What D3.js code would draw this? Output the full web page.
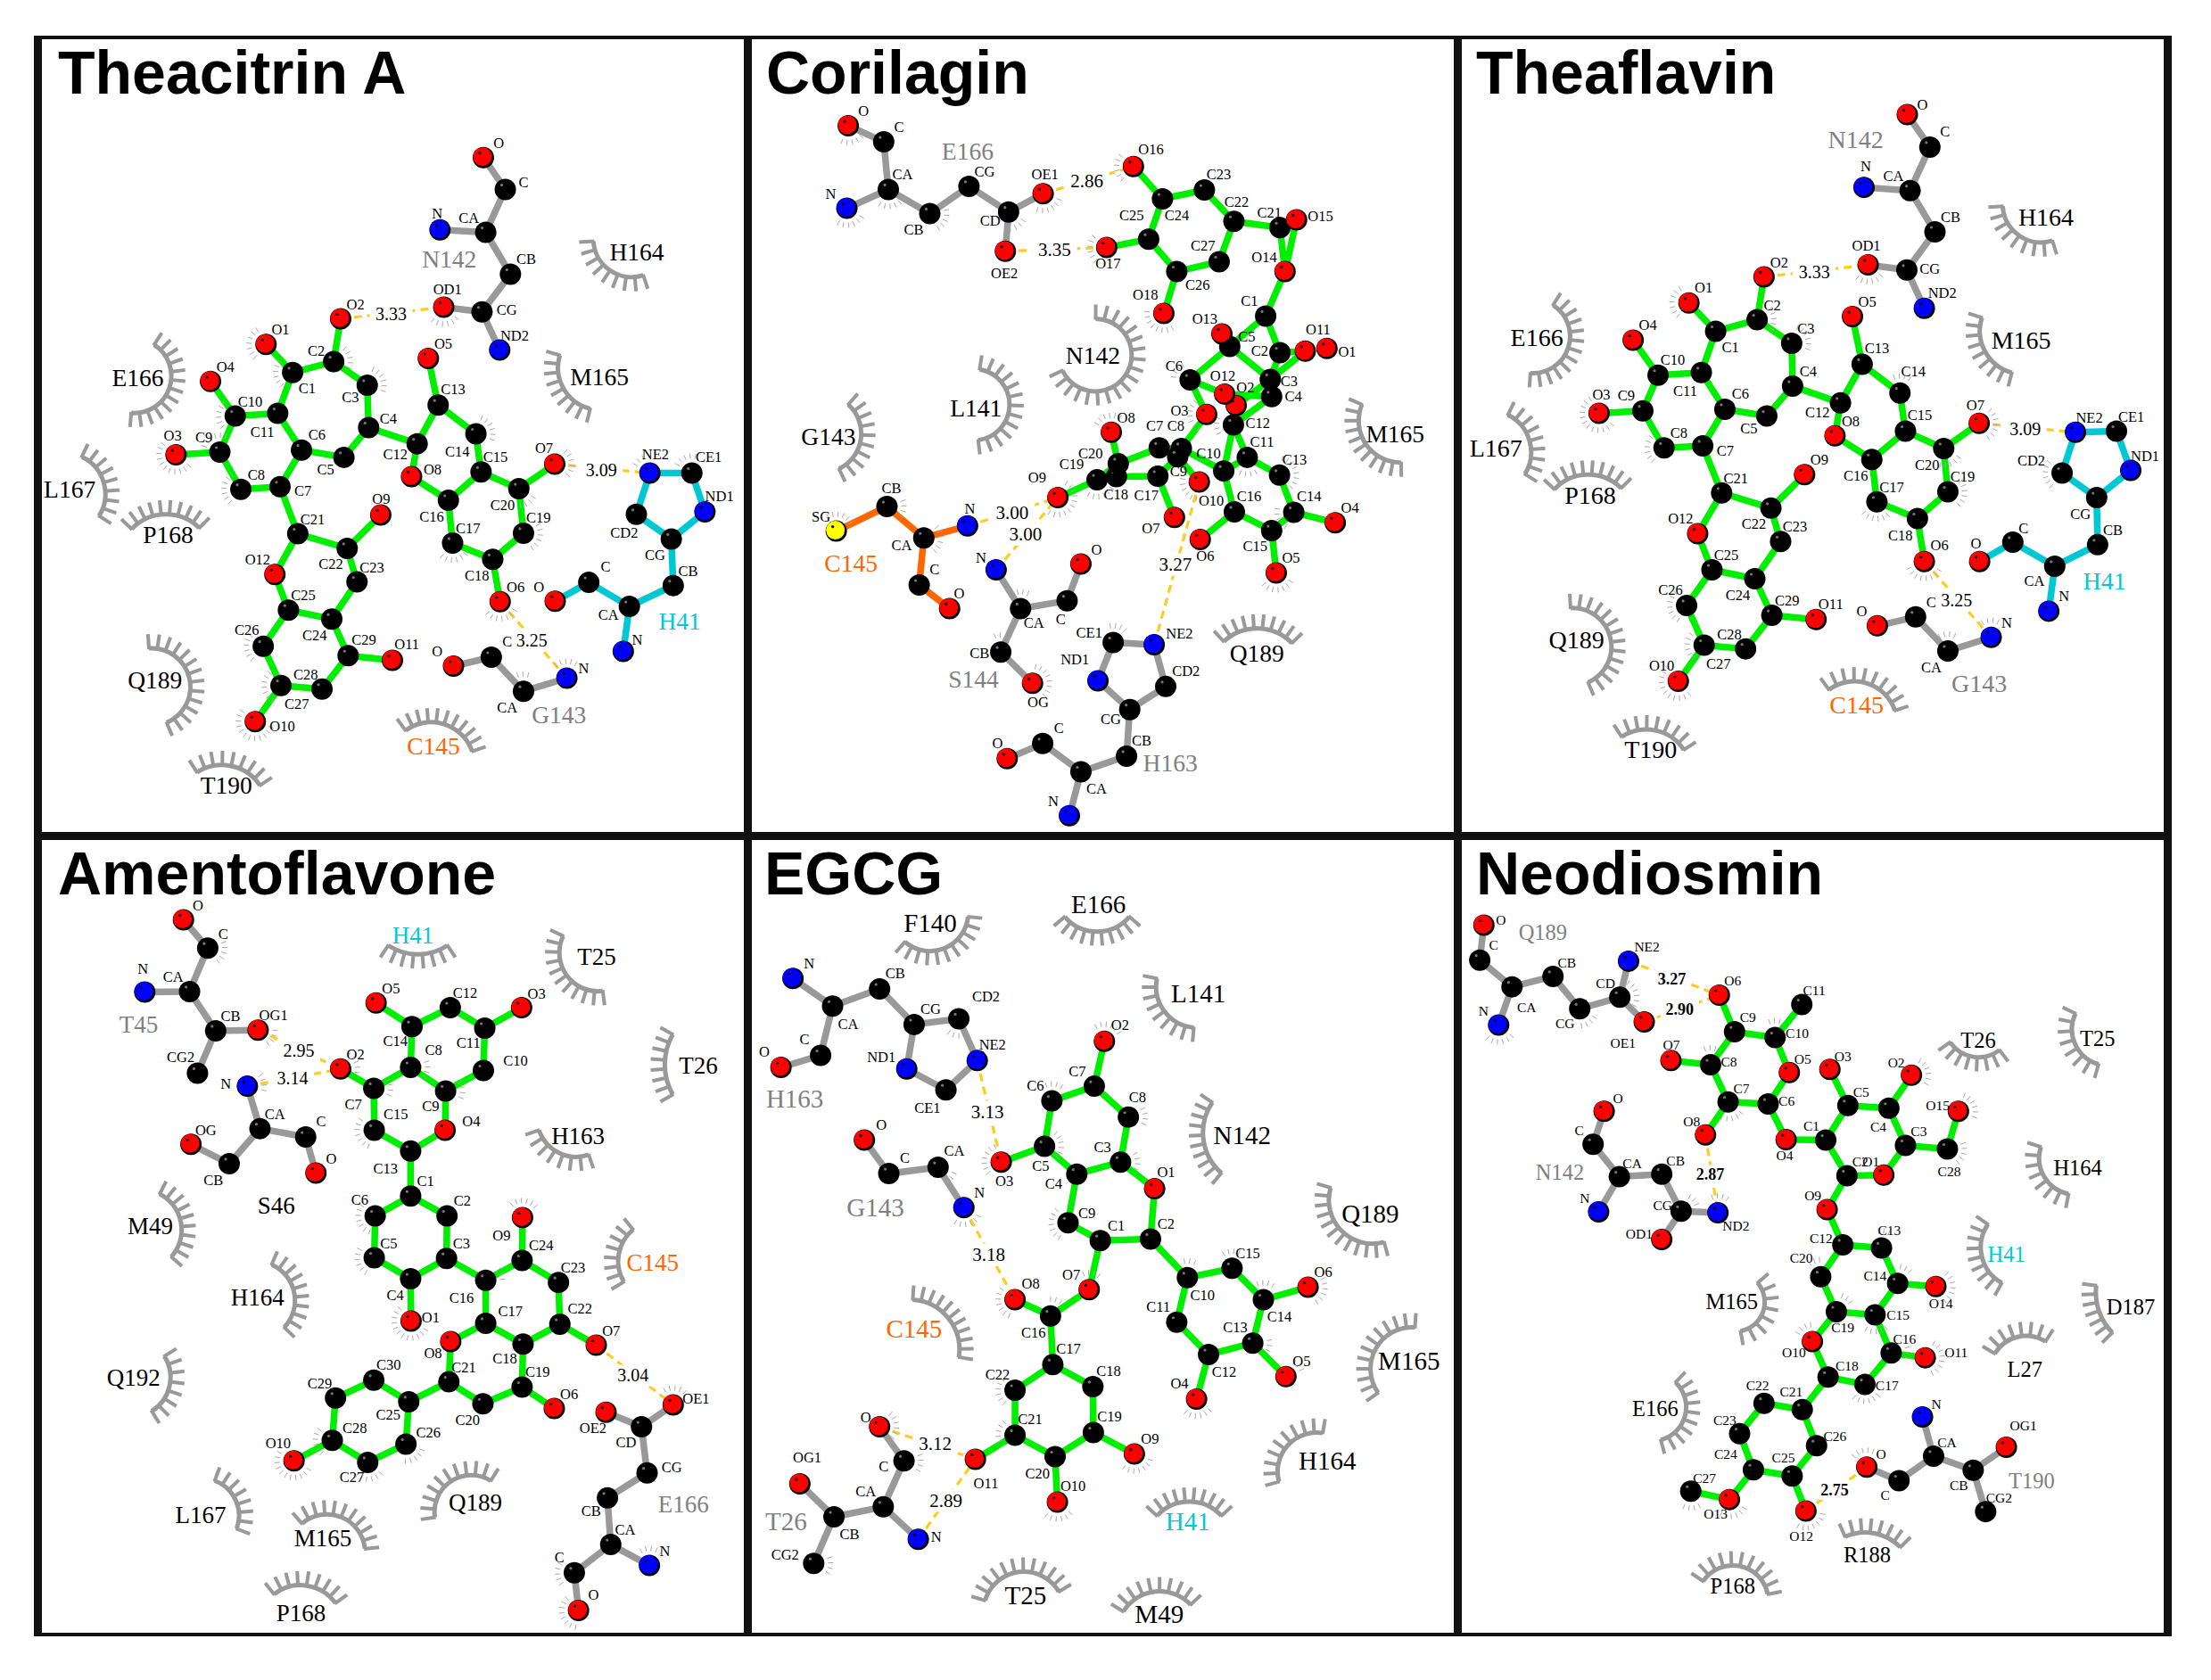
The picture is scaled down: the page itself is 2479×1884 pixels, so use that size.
<!DOCTYPE html>
<html>
<head>
<meta charset="utf-8">
<script src="https://cdn.jsdelivr.net/npm/d3@7"></script>
<style>
html, body { margin: 0; padding: 0; background: #fff; }
svg { display: block; font-family: "Liberation Serif", serif; }
</style>
</head>
<body>
<svg id="chart" width="2479" height="1884"></svg>
<script>
// atom rows: name, x, y, label x, label y, [whisker from, whisker to in degrees]
// bonds: "A-B" names, arcs: residue, label x, y, then three points along the arc
var titles = ['Theacitrin A', 'Corilagin', 'Theaflavin', 'Amentoflavone', 'EGCG', 'Neodiosmin'];

// Theacitrin A
var a1Lig = [
  ['C1',570,661,601,692,130,230],['C2',658,640,621,620,-50,30],['C3',730,685,694,709,-70,30],['C4',733,766,775,750],
  ['C5',680,823,641,847],['C6',589,809,622,780],['C7',543,879,592,887],['C8',459,884,492,856,130,240],
  ['C9',414,813,380,785,200,290],['C10',447,744,479,716,140,230],['C11',538,739,505,775],['C12',837,797,790,817],
  ['C13',882,723,914,693],['C14',963,778,923,812,-70,30],['C15',974,851,1005,822],['C16',904,905,868,937],
  ['C17',913,987,946,958,40,140],['C18',999,1018,965,1049],['C19',1065,968,1097,938,-30,60],['C20',1055,883,1020,915,30,100],
  ['C21',581,969,613,941],['C22',687,997,652,1027],['C23',708,1061,740,1033],['C24',654,1132,617,1164],
  ['C25',561,1115,593,1087],['C26',507,1184,472,1153,130,230],['C27',545,1259,579,1295,120,230],['C28',633,1266,598,1238],
  ['C29',689,1202,723,1172],['O1',513,607,544,578,130,250],['O2',673,558,705,531],['O3',320,818,313,781,40,230],
  ['O4',394,678,426,650],['O5',861,634,893,606],['O6',1015,1099,1048,1071,30,150],['O7',1132,836,1109,805,-50,50],
  ['O8',825,860,870,847],['O9',759,933,760,902],['O10',490,1328,548,1337,20,230],['O11',784,1211,815,1181],
  ['O12',532,1047,495,1018]
];
var theaBonds = 'O1-C1 C1-C2 C2-O2 C2-C3 C3-C4 C4-C5 C5-C6 C6-C11 C1-C11 C11-C10 C10-O4 C10-C9 C9-O3 C9-C8 C8-C7 C7-C6 C7-C21 C21-C22 C22-O9 C22-C23 C23-C24 C24-C25 C21-O12 O12-C25 C25-C26 C26-C27 C27-O10 C27-C28 C28-C29 C29-C24 C29-O11 C4-C12 C12-C13 C13-O5 C13-C14 C14-C15 C15-C16 C15-C20 C20-O7 C20-C19 C19-C18 C18-C17 C17-C16 C16-O8 O8-C12 C18-O6';
var a1N142 = [['O',979,250,1012,222],['C',1026,311,1065,298],['CA',984,393,948,365],['N',886,388,880,357],['CB',1037,473,1071,444],['CG',976,545,1029,542],['OD1',894,536,902,502,40,130],['ND2',1014,618,1046,590]];
var a1H41 = [['CB',1386,1068,1418,1040],['CG',1382,979,1347,1010],['CD2',1307,932,1281,967],['NE2',1336,853,1348,817,210,250],['CE1',1426,853,1462,822,210,290],['ND1',1454,927,1485,898],['CA',1292,1108,1247,1124],['C',1205,1062,1241,1032],['O',1133,1098,1098,1071],['N',1279,1194,1309,1171]];
var a1G143 = [['O',915,1222,880,1194],['C',996,1205,1030,1176],['CA',1065,1270,1030,1302,-110,-60],['N',1158,1245,1194,1227,230,310]];
var a1Hbonds = [['lig:O2','N142:OD1','3.33',781,549],['lig:O7','H41:NE2','3.09',1232,847],['lig:O6','G143:N','3.25',1083,1173]];
var a1Names = [['N142',906,445],['H41',1400,1137],['G143',1141,1316]];
var a1Arcs = [
  ['H164',1308,431,1215,410,1245,462,1322,475],['E166',238,671,273,608,310,668,224,738],['M165',1228,669,1143,628,1150,690,1208,730],
  ['L167',92,885,118,822,168,885,155,935],['P168',303,972,225,960,303,932,370,958],['Q189',275,1250,262,1188,350,1252,300,1330],
  ['T190',428,1450,365,1425,432,1412,500,1450],['C145',872,1375,812,1345,880,1330,955,1385]
];

// Corilagin
var a2Lig = [
  ['C1',1121,553,1086,525],['C2',1152,623,1108,620],['C3',1131,674,1172,678],['C4',1134,707,1181,707],
  ['C5',1043,611,1080,592],['C6',957,675,922,648,-170,-100],['C7',890,805,880,763],['C8',938,806,926,763],
  ['C9',930,822,932,850],['C10',1030,849,997,815],['C11',1081,823,1113,794,60,130],['C12',1051,761,1104,757,150,220],
  ['C13',1151,857,1184,828,-80,50],['C14',1182,928,1215,898,120,200],['C15',1134,963,1098,993],['C16',1053,927,1085,898],
  ['C17',887,859,862,895],['C18',797,860,796,894],['C19',755,866,700,836,30,120],['C20',801,835,741,816],
  ['C21',1152,384,1129,355],['C22',1052,372,1058,335],['C23',988,312,1019,283],['C24',897,329,928,360],
  ['C25',867,406,830,361],['C26',928,468,973,494],['C27',1020,449,985,419],['O1',1254,615,1298,622],
  ['O2',1057,724,1077,689],['O3',993,741,934,733,120,240],['O4',1272,948,1304,919],['O5',1144,1044,1176,1015,30,150],
  ['O6',979,980,990,1011],['O7',923,938,872,958],['O8',786,775,818,747,-150,-60],['O9',670,900,625,861,-60,120],
  ['O10',977,870,1003,906,100,220],['O11',1207,620,1235,578],['O12',1032,702,1028,667],['O13',1026,587,989,559],
  ['O14',1163,468,1118,440],['O15',1188,369,1240,363],['O16',834,267,872,234,130,230],['O17',776,422,779,453,130,230],
  ['O18',900,548,860,513,60,200]
];
var a2LigBonds = 'O16-C24 C24-C23 C23-C22 C22-C21 C22-C27 C27-C26 C26-C25 C25-C24 C25-O17 C26-O18 C21-O15 C21-O14 O15-O14 O14-C1 C1-C2 C2-C3 C2-O11 C3-O11 C3-C4 C1-C5 C5-C3 C5-O13 C5-C6 C6-O12 C6-O3 O3-C8 O12-C4 O2-C3 C4-C12 C12-C10 C12-C11 C11-C13 C13-C14 C14-O4 C14-C15 C15-O5 C15-C16 C16-O6 C16-C10 C10-C8 C10-C11 C7-C20 C7-C8 C8-C9 C9-O10 C9-C17 C17-O7 C17-C18 C18-C19 C19-O9 C19-C20 C20-O8 C18-C20';
var a2E166 = [['O',215,189,248,161,40,120],['C',292,220,325,191],['CA',302,311,333,282,30,130],['N',212,347,177,319,30,120],['CB',392,357,357,388,-30,60],['CG',477,305,511,277],['CD',563,354,523,370,30,100],['OE1',638,319,642,282,20,110],['OE2',556,429,554,472]];
var a2C145 = [['SG',189,964,156,936,-120,-30],['CB',299,917,309,882,-20,40],['CA',379,977,331,992,-40,50],['N',474,954,479,921],['C',369,1067,402,1038],['O',435,1112,456,1084]];
var a2S144 = [['N',536,1038,503,1015],['CA',589,1112,618,1139,-100,-50],['C',690,1097,676,1132],['O',720,1027,754,999],['CB',546,1195,500,1198,-110,-50],['OG',615,1255,627,1291,-80,50]];
var a2H163 = [['CE1',790,1177,738,1159,-100,-30],['NE2',879,1181,934,1160],['CD2',904,1261,948,1231],['CG',826,1305,785,1324],['ND1',757,1250,707,1210],['CB',819,1394,852,1365],['CA',720,1424,754,1456],['C',637,1370,672,1341],['O',560,1399,539,1369],['N',695,1508,660,1480]];
var a2Hbonds = [['E166:OE1','lig:O16','2.86',733,295],['E166:OE2','lig:O17','3.35',663,426],['C145:N','lig:O9','3.00',571,929],['S144:N','lig:O9','3.00',600,970],['lig:O10','H163:NE2','3.27',925,1028]];
var a2Names = [['E166',474,239],['C145',221,1026],['S144',487,1248],['H163',914,1408]];
var a2Arcs = [
  ['N142',746,628,752,558,830,630,680,657],['L141',492,730,500,655,565,720,497,790],['G143',172,784,215,722,243,783,195,845],
  ['M165',1402,778,1330,722,1325,770,1415,833],['Q189',1102,1198,1030,1175,1105,1150,1178,1178]
];

// Theaflavin
var a3Lig = [
  ['C1',549,582,581,613],['C2',639,560,672,532,-40,40],['C3',714,605,745,577,-70,20],['C4',716,687,750,658],
  ['C5',660,744,621,768],['C6',569,731,603,701],['C7',521,801,570,810],['C8',437,805,469,776,130,220],
  ['C9',391,734,355,705],['C10',424,666,456,637],['C11',518,661,483,697],['C12',820,719,770,738],
  ['C13',867,645,899,615],['C14',949,700,978,658,-110,-50],['C15',961,773,992,743],['C16',888,827,853,859],
  ['C17',899,908,931,880,50,140],['C18',987,940,950,972],['C19',1053,889,1085,860,-40,50],['C20',1044,806,1008,837,30,110],
  ['C21',562,891,593,863],['C22',669,920,632,951],['C23',690,984,721,955],['C24',634,1055,597,1087],
  ['C25',541,1038,572,1010],['C26',486,1106,451,1077,120,230],['C27',524,1182,555,1218,130,230],['C28',614,1189,579,1161],
  ['C29',671,1125,704,1096],['O1',491,528,523,499,130,250],['O2',654,478,687,451],['O3',296,739,301,703,40,250],
  ['O4',370,599,402,570],['O5',846,554,878,526],['O6',1002,1022,1035,992,30,160],['O7',1121,758,1113,723,-50,60],
  ['O8',808,782,842,754],['O9',742,856,774,827],['O10',468,1251,432,1222,50,230],['O11',767,1133,799,1104],
  ['O12',510,969,473,940]
];
var a3N142 = [['O',965,168,998,149],['C',1014,230,1047,201],['CA',971,313,935,285],['N',871,307,875,267],['CB',1025,392,1059,364],['CG',964,465,1014,462],['OD1',880,455,876,419,40,130],['ND2',1002,538,1041,508]];
var a3H41 = [['CB',1378,990,1411,962],['CG',1376,900,1341,932],['CD2',1301,853,1234,830,130,220],['NE2',1330,775,1360,747],['CE1',1419,773,1451,745],['ND1',1450,848,1481,820],['CA',1285,1031,1241,1060],['C',1194,985,1217,958],['O',1122,1022,1114,988],['N',1272,1117,1305,1089]];
var a3G143 = [['O',900,1145,866,1117],['C',983,1128,1017,1100],['CA',1053,1193,1017,1225,-120,-60],['N',1147,1167,1181,1139,-120,-50]];
var a3Hbonds = [['lig:O2','N142:OD1','3.33',763,469],['lig:O7','H41:NE2','3.09',1221,769],['lig:O6','G143:N','3.25',1072,1096]];
var a3Names = [['N142',853,216],['H41',1393,1060],['G143',1121,1256]];
var a3Arcs = [
  ['H164',1266,365,1172,343,1203,396,1280,409],['E166',161,595,196,532,233,592,147,662],['M165',1212,600,1127,556,1134,621,1192,661],
  ['L167',72,805,98,742,148,805,135,855],['P168',277,896,199,884,277,856,344,882],['Q189',247,1173,234,1111,322,1175,272,1253],
  ['T190',408,1382,345,1357,412,1344,480,1382],['C145',855,1297,795,1267,863,1252,938,1307]
];

// Amentoflavone
var a4Lig = [
  ['C1',823,684,855,655],['C2',901,722,934,693],['C3',900,803,932,774],['C4',823,842,790,874],
  ['C5',745,802,776,774,120,220],['C6',747,722,714,692,110,230],['C7',744,478,700,508,-30,40],['C8',823,438,872,405,-20,40],
  ['C9',898,483,866,512,-30,30],['C10',979,444,1048,426],['C11',982,363,947,392],['C12',908,324,940,295],
  ['C13',823,598,769,631],['C14',826,360,790,387],['C15',745,558,791,527,110,220],['C16',984,845,932,878,-40,0],
  ['C17',984,927,1037,904],['C18',1064,967,1025,994],['C19',1062,1049,1095,1020],['C20',978,1081,945,1112],
  ['C21',905,1039,937,1011],['C22',1143,929,1186,899],['C23',1140,849,1171,820],['C24',1062,807,1103,778],
  ['C25',819,1077,775,1102],['C26',813,1158,861,1136,20,100],['C27',731,1193,697,1222,40,130],['C28',655,1151,703,1128,130,220],
  ['C29',662,1070,628,1042],['C30',744,1036,776,1007],['O1',824,923,866,916,30,240],['O2',673,441,705,413,-60,20],
  ['O3',1061,324,1093,297],['O4',897,558,953,541],['O5',749,315,781,287],['O6',1131,1090,1163,1062],
  ['O7',1221,969,1253,941],['O8',909,962,871,984],['O9',1063,725,1018,760,-130,-40],['O10',573,1190,539,1156,30,210]
];
var a4LigBonds = 'O5-C14 C14-C12 C12-C11 C11-O3 C11-C10 C10-C9 C9-C8 C8-C14 C8-C7 C7-O2 C7-C15 C15-C13 C13-O4 O4-C9 C13-C1 C1-C2 C1-C6 C6-C5 C5-C4 C4-O1 C4-C3 C3-C2 C3-C16 C16-C24 C24-O9 C24-C23 C23-C22 C22-O7 C22-C18 C18-C17 C17-C16 C17-O8 O8-C21 C21-C20 C20-C19 C19-C18 C19-O6 C21-C25 C25-C30 C30-C29 C29-C28 C28-O10 C28-C27 C27-C26 C26-C25';
var a4T45 = [['O',336,156,367,128],['C',388,210,421,183,-20,60],['CA',349,293,314,265],['N',253,294,249,249],['CB',405,368,437,340],['OG1',496,367,529,338,0,60],['CG2',366,449,330,418]];
var a4S46 = [['N',473,474,427,470,-40,30],['CA',500,555,532,527],['C',598,571,631,542],['O',620,640,653,612],['CB',434,622,400,653],['OG',352,585,384,558]];
var a4E166 = [['OE1',1386,1083,1435,1072,-120,-40],['OE2',1242,1097,1214,1127],['CD',1318,1125,1285,1155],['CG',1330,1213,1383,1203],['CB',1245,1261,1210,1286],['CA',1252,1350,1283,1321],['N',1335,1390,1368,1362,-120,-40],['C',1174,1404,1142,1375,140,220],['O',1183,1476,1215,1447,100,230]];
var a4Hbonds = [['T45:OG1','lig:O2','2.95',583,406],['S46:N','lig:O2','3.14',570,459],['lig:O7','E166:OE1','3.04',1300,1027]];
var a4Names = [['T45',240,356],['S46',535,702],['E166',1408,1273]];
var a4Arcs = [
  ['H41',828,186,775,205,838,222,902,205],['T25',1222,227,1150,187,1165,270,1235,292],['T26',1440,435,1385,375,1368,432,1385,490],
  ['H163',1182,570,1098,558,1145,603,1205,605],['C145',1342,812,1300,748,1268,805,1280,848],['M49',265,742,285,680,332,745,310,800],
  ['H164',495,878,525,815,575,880,552,935],['Q192',229,1032,295,990,308,1035,268,1095],['L167',373,1293,403,1228,452,1275,450,1320],
  ['M165',635,1338,590,1310,655,1293,725,1358],['Q189',962,1270,995,1228,905,1232,875,1298],['P168',588,1482,530,1445,595,1428,662,1462]
];

// EGCG
var a5Lig = [
  ['C1',762,769,797,740],['C2',871,766,905,738],['C3',806,619,767,590,-30,30],['C4',711,642,661,660],
  ['C5',641,589,633,627,-50,50],['C6',657,502,621,473,-110,-50],['C7',749,474,712,445],['C8',823,533,843,495,-30,40],
  ['C9',692,735,733,717,120,240],['C10',951,840,984,873,-100,-60],['C11',928,925,888,895],['C12',997,987,1031,1020],
  ['C13',1093,965,1055,935,-10,40],['C14',1116,882,1151,915,-110,-50],['C15',1048,822,1082,793,-120,-50],['C16',654,913,617,946,-90,-50],
  ['C17',659,1006,693,975],['C18',746,1048,780,1018],['C19',747,1136,782,1106],['C20',664,1182,626,1215],
  ['C21',577,1141,610,1111,140,230],['C22',577,1055,539,1025,130,220],['O1',880,670,905,638],['O2',771,388,805,358,-120,-30],
  ['O3',547,619,554,655,140,250],['O4',971,1072,934,1042,40,140],['O5',1165,1029,1199,1000,-60,-10],['O6',1213,858,1246,829,-30,60],
  ['O7',738,863,699,834,-110,-50],['O8',577,882,611,852,110,230],['O9',836,1177,870,1148,20,130],['O10',669,1269,703,1239,40,140],
  ['O11',491,1187,514,1234]
];
var a5LigBonds = 'C6-C7 C7-O2 C7-C8 C8-C3 C3-C4 C4-C5 C5-C6 C5-O3 C3-O1 O1-C2 C2-C1 C1-C9 C9-C4 C1-O7 O7-C16 C16-O8 C16-C17 C17-C18 C18-C19 C19-O9 C19-C20 C20-O10 C20-C21 C21-O11 C21-C22 C22-C17 C2-C10 C10-C15 C15-C14 C14-O6 C14-C13 C13-O5 C13-C12 C12-O4 C12-C11 C11-C10';
var a5H163 = [['N',95,268,130,239],['CA',181,321,215,355],['CB',283,288,317,258],['CG',358,356,394,326],['CD2',455,345,514,303,90,140],['NE2',495,425,528,394],['CE1',427,481,387,515],['ND1',342,441,287,419],['C',155,415,120,385],['O',69,438,33,408]];
var a5G143 = [['O',250,577,287,548],['C',303,641,338,611],['CA',410,629,445,598,20,60],['N',466,706,500,677,30,130]];
var a5T26 = [['O',283,1125,253,1107,-50,60],['C',336,1190,292,1200,-20,50],['CA',291,1278,253,1248],['CB',184,1297,218,1330],['OG1',110,1234,126,1183],['CG2',140,1386,78,1370,-20,40],['N',367,1340,406,1336]];
var a5Hbonds = [['H163:NE2','lig:O3','3.13',517,523],['G143:N','lig:O8','3.18',520,796],['T26:O','lig:O11','3.12',404,1157],['T26:N','lig:O11','2.89',427,1266]];
var a5Names = [['H163',99,499],['G143',274,706],['T26',80,1306]];
var a5Arcs = [
  ['F140',393,163,475,150,415,213,338,198],['E166',758,127,685,150,765,178,825,150],['L141',975,297,885,268,905,335,965,362],
  ['N142',1070,568,1005,505,985,565,1025,640],['Q189',1348,718,1262,668,1280,745,1378,772],['C145',358,938,355,882,445,935,455,992],
  ['M165',1432,1000,1445,935,1350,1000,1365,1060],['H164',1255,1190,1245,1137,1175,1155,1150,1230],['H41',952,1307,885,1295,950,1268,1025,1295],
  ['T25',600,1448,512,1457,590,1402,672,1440],['M49',890,1483,812,1478,880,1440,958,1465]
];

// Neodiosmin
var a6Lig = [
  ['C1',788,577,757,551],['C2',834,645,863,619],['C3',961,587,990,560],['C4',925,516,902,552],
  ['C5',836,511,865,485],['C6',663,508,703,503],['C7',576,504,605,478,40,120],['C8',538,433,578,427,-110,-50],
  ['C9',590,370,619,343],['C10',678,381,726,373,-110,-60],['C11',736,318,763,291],['C12',825,777,778,765],
  ['C13',909,783,926,749,-100,-50],['C14',944,851,895,837,-80,-30],['C15',895,911,945,911,50,130],['C16',930,984,959,957,-20,30],
  ['C17',873,1044,921,1047,40,140],['C18',793,1030,834,1009],['C19',811,905,825,936,-70,-20],['C20',777,838,735,802,-130,-80],
  ['C21',737,1092,713,1058],['C22',654,1080,640,1046],['C23',601,1138,569,1112],['C24',631,1207,571,1177],
  ['C25',715,1219,696,1185],['C26',768,1161,808,1143],['C27',495,1248,525,1223,60,130],['C28',1052,594,1056,638,-20,60],
  ['O1',914,644,886,619],['O2',974,453,941,430,-60,30],['O3',797,442,825,417],['O4',702,576,699,606],
  ['O5',709,448,738,422],['O6',557,300,586,273],['O7',452,425,453,395],['O8',527,567,497,541],
  ['O9',791,710,760,684],['O10',759,962,719,983,-150,-90],['O11',1004,993,1071,983,-60,70],['O12',745,1286,735,1334,10,120],
  ['O13',579,1264,549,1291,30,120],['O14',1027,857,1038,890,-50,60],['O15',1076,522,1031,511,-70,30]
];
var a6LigBonds = 'O6-C9 C9-C10 C10-C11 C10-O5 O5-C6 C6-C7 C7-C8 C8-C9 C8-O7 C7-O8 C6-O4 O4-C1 C1-C5 C5-O3 C5-C4 C4-O2 C4-C3 C3-C28 C28-O15 C3-O1 O1-C2 C2-C1 C2-O9 O9-C12 C12-C13 C13-C14 C14-O14 C14-C15 C15-C19 C19-C20 C20-C12 C15-C16 C16-O11 C16-C17 C17-C18 C18-O10 O10-C19 C18-C21 C21-C22 C22-C23 C23-C24 C24-O13 O13-C27 C24-C25 C25-O12 C25-C26 C26-C21';
var a6Q189 = [['O',46,166,83,157],['C',37,233,67,205],['CA',107,284,139,323],['CB',196,264,226,238],['CG',254,326,222,354,30,100],['CD',341,304,310,278,-60,30],['NE2',360,235,400,207],['OE1',394,351,348,391],['N',78,357,45,331,40,140]];
var a6N142 = [['O',307,522,337,497],['C',283,585,253,558],['CA',340,647,368,622],['CB',432,642,462,617],['CG',474,713,434,702,-60,0],['OD1',432,767,383,757],['ND2',554,716,593,741,-110,-40],['N',295,714,265,688]];
var a6T190 = [['N',998,1106,1028,1082],['CA',1022,1181,1051,1155],['CB',1108,1208,1077,1237],['OG1',1180,1164,1217,1123],['CG2',1135,1287,1164,1261],['C',947,1228,917,1256],['O',877,1202,908,1177,-140,-60]];
var a6Hbonds = [['Q189:NE2','lig:O6','3.27',454,270],['Q189:OE1','lig:O6','2.90',471,327],['lig:O8','N142:ND2','2.87',537,643],['lig:O12','T190:O','2.75',807,1246]];
var a6Names = [['Q189',174,181],['N142',211,639],['T190',1235,1228]];
var a6Arcs = [
  ['T26',1119,387,1058,390,1110,418,1165,405],['T25',1378,384,1330,335,1330,395,1380,432],['H164',1335,630,1255,590,1258,640,1315,680],
  ['H41',1180,796,1140,738,1125,790,1170,850],['D187',1450,897,1375,855,1378,895,1410,945],['L27',1220,1016,1155,985,1205,953,1265,962],
  ['M165',584,886,640,850,655,893,603,942],['E166',418,1090,462,1040,485,1090,430,1150],['R188',878,1370,830,1335,890,1328,950,1355],
  ['P168',586,1430,522,1420,590,1390,662,1445]
];

var backboneBonds = 'O-C C-CA CA-N CA-CB';
var hisRing = 'CB-CG CG-CD2 CD2-NE2 NE2-CE1 CE1-ND1 ND1-CG';
var molecules = [
  [['lig',a1Lig,theaBonds],['N142',a1N142,backboneBonds+' CB-CG CG-OD1 CG-ND2'],['H41',a1H41,backboneBonds+' '+hisRing],['G143',a1G143,'O-C C-CA CA-N']],
  [['lig',a2Lig,a2LigBonds],['E166',a2E166,backboneBonds+' CB-CG CG-CD CD-OE1 CD-OE2'],['C145',a2C145,'SG-CB CB-CA CA-N CA-C C-O'],['S144',a2S144,backboneBonds+' CB-OG'],['H163',a2H163,backboneBonds+' '+hisRing]],
  [['lig',a3Lig,theaBonds],['N142',a3N142,backboneBonds+' CB-CG CG-OD1 CG-ND2'],['H41',a3H41,backboneBonds+' '+hisRing],['G143',a3G143,'O-C C-CA CA-N']],
  [['lig',a4Lig,a4LigBonds],['T45',a4T45,backboneBonds+' CB-OG1 CB-CG2'],['S46',a4S46,backboneBonds+' CB-OG'],['E166',a4E166,backboneBonds+' CB-CG CG-CD CD-OE1 CD-OE2']],
  [['lig',a5Lig,a5LigBonds],['H163',a5H163,backboneBonds+' '+hisRing],['G143',a5G143,'O-C C-CA CA-N'],['T26',a5T26,backboneBonds+' CB-OG1 CB-CG2']],
  [['lig',a6Lig,a6LigBonds],['Q189',a6Q189,backboneBonds+' CB-CG CG-CD CD-NE2 CD-OE1'],['N142',a6N142,backboneBonds+' CB-CG CG-OD1 CG-ND2'],['T190',a6T190,backboneBonds+' CB-OG1 CB-CG2']]
];
var hbonds = [a1Hbonds, a2Hbonds, a3Hbonds, a4Hbonds, a5Hbonds, a6Hbonds];
var residueNames = [a1Names, a2Names, a3Names, a4Names, a5Names, a6Names];
var arcs = [a1Arcs, a2Arcs, a3Arcs, a4Arcs, a5Arcs, a6Arcs];

// layout of the six panels on the page
var origins = [[30,30,820],[840,30,810],[1640,30,810],[30,940,820],[840,940,810],[1640,940,810]];
var titleAt = [[65,105],[859,105],[1655,105],[65,1003],[857,1003],[1655,1003]];
var nameSize = [27.5,27.5,28,27,29,24.5];
var atomSize = [16.5,16.5,16.5,16.5,16.5,15.5];
var distSize = [20,21,20,20,21,18];
var atomFill = { C:'#000000', O:'#ff0000', N:'#0000ff', S:'#ffff00' };
var residueColor = { H41:'#00c8d2', C145:'#ff6600' };
var ligandGreen = '#00ee00', arcGrey = '#999999';

var svg = d3.select('#chart');

// frame
var frame = svg.append('g').attr('fill', '#111');
[[38,40,2397,4],[38,933,2397,9],[38,1831,2397,4],[38,40,9,1795],[834,40,9,1795],[1630,40,9,1795],[2426,40,9,1795]].forEach(function(r) {
  frame.append('rect').attr('x', r[0]).attr('y', r[1]).attr('width', r[2]).attr('height', r[3]);
});

function residueStroke(key) {
  if (key == 'lig') return ligandGreen;
  return residueColor[key] || arcGrey;
}

function drawArc(g, row, x, y, size) {
  var p = [[x(row[3]),y(row[4])],[x(row[5]),y(row[6])],[x(row[7]),y(row[8])]];
  // circle through the three points
  var ax=p[0][0], ay=p[0][1], bx=p[1][0], by=p[1][1], cx=p[2][0], cy=p[2][1];
  var d = 2*(ax*(by-cy)+bx*(cy-ay)+cx*(ay-by));
  var ox = ((ax*ax+ay*ay)*(by-cy)+(bx*bx+by*by)*(cy-ay)+(cx*cx+cy*cy)*(ay-by))/d;
  var oy = ((ax*ax+ay*ay)*(cx-bx)+(bx*bx+by*by)*(ax-cx)+(cx*cx+cy*cy)*(bx-ax))/d;
  var r = Math.hypot(ax-ox, ay-oy);
  var tau = Math.PI*2;
  function norm(a) { return ((a % tau) + tau) % tau; }
  var a0 = Math.atan2(ay-oy, ax-ox);
  var sweepMid = norm(Math.atan2(by-oy, bx-ox)-a0);
  var sweepEnd = norm(Math.atan2(cy-oy, cx-ox)-a0);
  var sweep = sweepMid < sweepEnd ? sweepEnd : sweepEnd-tau;
  var path = d3.path();
  path.arc(ox, oy, r, a0, a0+sweep, sweep < 0);
  g.append('path').attr('d', path.toString()).attr('fill', 'none')
    .attr('stroke', arcGrey).attr('stroke-width', 5);
  var n = Math.max(4, Math.round(Math.abs(sweep)*r/9.5));
  d3.range(n+1).forEach(function(i) {
    var a = a0 + sweep*i/n;
    g.append('line')
      .attr('x1', ox+Math.cos(a)*(r-1)).attr('y1', oy+Math.sin(a)*(r-1))
      .attr('x2', ox+Math.cos(a)*(r+16)).attr('y2', oy+Math.sin(a)*(r+16))
      .attr('stroke', arcGrey).attr('stroke-width', 4);
  });
  g.append('text').attr('x', x(row[1])).attr('y', y(row[2])).attr('dy', '0.33em')
    .attr('text-anchor', 'middle').attr('font-size', size)
    .attr('fill', residueColor[row[0]] || '#000').text(row[0]);
}

titles.forEach(function(title, i) {
  var o = origins[i];
  var x = d3.scaleLinear().domain([0,1568]).range([o[0], o[0]+o[2]]);
  var y = d3.scaleLinear().domain([0,1568]).range([o[1], o[1]+920]);
  var g = svg.append('g');

  // index atoms by molecule so the h-bonds can find their ends
  var byKey = {};
  molecules[i].forEach(function(m) {
    m[1].forEach(function(a) { byKey[m[0]+':'+a[0]] = a; });
  });

  // h-bonds first, so the atoms sit on top of them
  hbonds[i].forEach(function(h) {
    var a = byKey[h[0]], b = byKey[h[1]];
    g.append('line').attr('x1', x(a[1])).attr('y1', y(a[2])).attr('x2', x(b[1])).attr('y2', y(b[2]))
      .attr('stroke', '#ffcc22').attr('stroke-width', 3.2).attr('stroke-dasharray', '9 6');
  });
  hbonds[i].forEach(function(h) {
    var w = distSize[i]*2.4, t = distSize[i]*1.2;
    g.append('rect').attr('x', x(h[3])-w/2).attr('y', y(h[4])-t/2).attr('width', w).attr('height', t).attr('fill', '#fff');
  });
  hbonds[i].forEach(function(h) {
    g.append('text').attr('x', x(h[3])).attr('y', y(h[4])).attr('dy', '0.33em')
      .attr('text-anchor', 'middle').attr('font-size', distSize[i])
      .attr('font-weight', i == 5 ? 'bold' : 'normal').text(h[2]);
  });

  arcs[i].forEach(function(row) { drawArc(g, row, x, y, nameSize[i]); });

  residueNames[i].forEach(function(r) {
    g.append('text').attr('x', x(r[1])).attr('y', y(r[2])).attr('dy', '0.33em')
      .attr('text-anchor', 'middle').attr('font-size', nameSize[i])
      .attr('fill', r[0] == 'S46' ? '#000' : (residueColor[r[0]] || '#808080')).text(r[0]);
  });

  molecules[i].forEach(function(m) {
    var find = {};
    m[1].forEach(function(a) { find[a[0]] = a; });
    g.selectAll(null).data(m[2].split(' ')).enter().append('line')
      .attr('x1', function(d) { return x(find[d.split('-')[0]][1]); })
      .attr('y1', function(d) { return y(find[d.split('-')[0]][2]); })
      .attr('x2', function(d) { return x(find[d.split('-')[1]][1]); })
      .attr('y2', function(d) { return y(find[d.split('-')[1]][2]); })
      .attr('stroke', residueStroke(m[0])).attr('stroke-width', 7.5);
  });

  molecules[i].forEach(function(m) {
    m[1].forEach(function(a) {
      var px = x(a[1]), py = y(a[2]);
      if (a.length > 5) {
        // small contact whiskers round the atom
        for (var deg = a[5]; deg <= a[6]; deg += 18) {
          var t = deg*Math.PI/180;
          g.append('line')
            .attr('x1', px+Math.cos(t)*16).attr('y1', py+Math.sin(t)*16)
            .attr('x2', px+Math.cos(t)*22).attr('y2', py+Math.sin(t)*22)
            .attr('stroke', '#aaaaaa').attr('stroke-width', 1);
        }
      }
      g.append('circle').attr('cx', px).attr('cy', py).attr('r', 12).attr('fill', '#000');
      var el = a[0][0];
      if (el != 'C') {
        g.append('circle').attr('cx', px-1).attr('cy', py-1).attr('r', 10.5).attr('fill', atomFill[el]);
      }
      g.append('circle').attr('cx', px-4).attr('cy', py-5).attr('r', 1.6)
        .attr('fill', el == 'C' ? '#777' : '#000');
    });
  });

  molecules[i].forEach(function(m) {
    m[1].forEach(function(a) {
      g.append('text').attr('x', x(a[3])).attr('y', y(a[4])).attr('dy', '0.33em')
        .attr('text-anchor', 'middle').attr('font-size', atomSize[i]).text(a[0]);
    });
  });

  g.append('text').attr('x', titleAt[i][0]).attr('y', titleAt[i][1])
    .attr('font-family', '"Liberation Sans", sans-serif').attr('font-weight', 'bold')
    .attr('font-size', 68).text(title);
});
</script>
</body>
</html>
